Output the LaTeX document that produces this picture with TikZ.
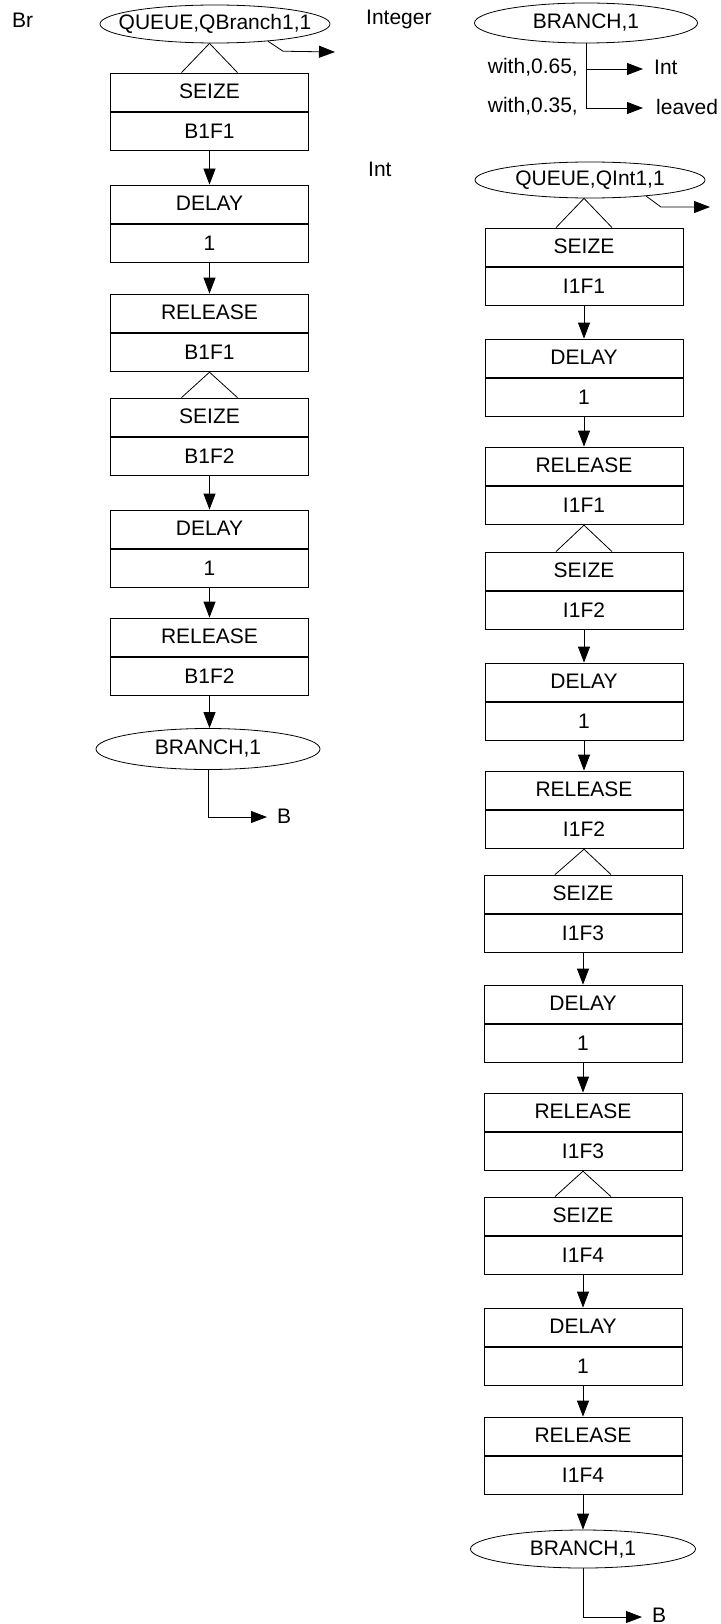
\documentclass[tikz,border=0pt]{standalone}
\usepackage{fontspec}
\setmainfont{Liberation Sans}
\usetikzlibrary{shapes.geometric,arrows.meta,calc}
\tikzset{
 part/.style={draw, line width=0.8pt, minimum width=198pt, minimum height=38.5pt, inner sep=0pt, text height=13pt, text depth=0pt},
 ell/.style={draw, ellipse, line width=0.8pt, inner sep=0pt},
 arr/.style={-{Triangle[length=16pt,width=12pt]}, line width=0.8pt},
 ln/.style={line width=0.8pt},
 lab/.style={inner sep=0pt, anchor=base west},
 labr/.style={inner sep=0pt, anchor=base east},
}
\newcommand\gblock[5]{%
 \node[part] (#1t) at (#2,#3+19.25) {#4};
 \node[part, anchor=north] (#1b) at (#1t.south) {#5};
}
\newcommand\gtri[2]{%
 \draw[ln] (#1) -- ($(#2t.north)+(-28,0)$);
 \draw[ln] (#1) -- ($(#2t.north)+(28,0)$);
}
\begin{document}
\begin{tikzpicture}[x=1pt,y=-1pt,font=\fontsize{21}{25}\selectfont]
\useasboundingbox (0,0) rectangle (720,1624);
% ---------- left column ----------
\node[lab] (tbr) at (12,27.5) {Br};
\node[ell, minimum width=230pt, minimum height=38pt, label=center:{QUEUE,QBranch1,1}] (q1) at (215,24) {};
\gblock{L1}{209.5}{73}{SEIZE}{B1F1}
\gblock{L2}{209.5}{185}{DELAY}{1}
\gblock{L3}{209.5}{294}{RELEASE}{B1F1}
\gblock{L4}{209.5}{398}{SEIZE}{B1F2}
\gblock{L5}{209.5}{510}{DELAY}{1}
\gblock{L6}{209.5}{618}{RELEASE}{B1F2}
\node[ell, minimum width=224pt, minimum height=41pt, label=center:{BRANCH,1}] (lbr) at (208,749) {};
\coordinate (q1out) at (335,52);
\draw[arr] (q1.-18) -- ++(15,10) -- (q1out);
\gtri{q1.south -| L1t.north}{L1}
\draw[arr] (L1b.south) -- (L2t.north);
\draw[arr] (L2b.south) -- (L3t.north);
\gtri{L3b.south}{L4}
\draw[arr] (L4b.south) -- (L5t.north);
\draw[arr] (L5b.south) -- (L6t.north);
\draw[arr] (L6b.south) -- (L6b.south |- lbr.north);
\coordinate (lbout) at (267,817);
\draw[arr] (lbr.south) |- (lbout);
\node[lab] (lB) at (277,823) {B};
% ---------- integer branch ----------
\node[lab] (tinteger) at (366,25) {Integer};
\node[ell, minimum width=223pt, minimum height=40pt, label=center:{BRANCH,1}] (ib) at (586,23) {};
\coordinate (iint) at (643,69);
\coordinate (ileav) at (643,108);
\draw[arr] (ib.south) |- (iint);
\draw[arr] (ib.south) |- (ileav);
\node[labr] (w1) at (578,74) {with,0.65,};
\node[labr] (w2) at (578,113) {with,0.35,};
\node[lab] (tto) at (654,74.5) {Int};
\node[lab] (tlv) at (656,115) {leaved};
% ---------- right column ----------
\node[lab] (tint) at (368,176.5) {Int};
\node[ell, minimum width=230pt, minimum height=36pt, label=center:{QUEUE,QInt1,1}] (q2) at (590,180) {};
\gblock{R1}{584}{228}{SEIZE}{I1F1}
\gblock{R2}{584}{339}{DELAY}{1}
\gblock{R3}{584}{447}{RELEASE}{I1F1}
\gblock{R4}{584}{552}{SEIZE}{I1F2}
\gblock{R5}{584}{663}{DELAY}{1}
\gblock{R6}{584}{771}{RELEASE}{I1F2}
\gblock{R7}{583}{875}{SEIZE}{I1F3}
\gblock{R8}{583}{985}{DELAY}{1}
\gblock{R9}{583}{1093}{RELEASE}{I1F3}
\gblock{R10}{583}{1197}{SEIZE}{I1F4}
\gblock{R11}{583}{1308}{DELAY}{1}
\gblock{R12}{583}{1417}{RELEASE}{I1F4}
\node[ell, minimum width=225pt, minimum height=38pt, label=center:{BRANCH,1}] (rbr) at (583,1549) {};
\coordinate (q2out) at (710,207);
\draw[arr] (q2.-16) -- ++(15,11) -- (q2out);
\gtri{q2.south -| R1t.north}{R1}
\draw[arr] (R1b.south) -- (R2t.north);
\draw[arr] (R2b.south) -- (R3t.north);
\gtri{R3b.south}{R4}
\draw[arr] (R4b.south) -- (R5t.north);
\draw[arr] (R5b.south) -- (R6t.north);
\gtri{R6b.south}{R7}
\draw[arr] (R7b.south) -- (R8t.north);
\draw[arr] (R8b.south) -- (R9t.north);
\gtri{R9b.south}{R10}
\draw[arr] (R10b.south) -- (R11t.north);
\draw[arr] (R11b.south) -- (R12t.north);
\draw[arr] (R12b.south) -- (R12b.south |- rbr.north);
\coordinate (rbout) at (642,1617);
\draw[arr] (rbr.south) |- (rbout);
\node[lab] (rB) at (652,1622) {B};
\end{tikzpicture}
\end{document}
